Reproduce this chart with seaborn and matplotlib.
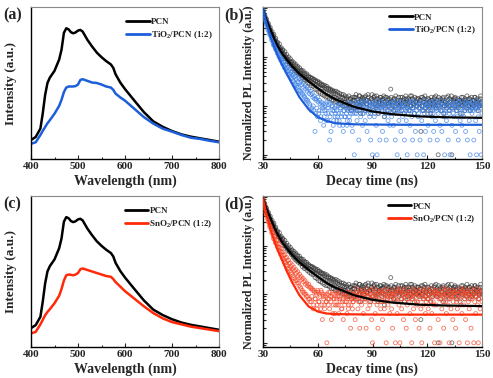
import numpy as np
import pandas as pd
import matplotlib
matplotlib.use("Agg")
import matplotlib.pyplot as plt
import seaborn as sns
from matplotlib.lines import Line2D
from matplotlib.ticker import MultipleLocator, LogLocator, NullFormatter

# ---------------- data ----------------
wavelength = [400, 410, 420, 425, 430, 435, 440, 450, 460, 465, 470, 475, 480, 485, 490, 495,
              500, 505, 510, 520, 530, 540, 550, 560, 570, 575, 580, 590, 600, 620, 640,
              660, 680, 700, 720, 740, 760, 780, 800]
pl_pcn = [0.125, 0.145, 0.20, 0.30, 0.42, 0.50, 0.535, 0.58, 0.655, 0.72, 0.83, 0.86, 0.853, 0.834,
          0.827, 0.833, 0.845, 0.849, 0.838, 0.784, 0.74, 0.70, 0.67, 0.644, 0.622, 0.60,
          0.557, 0.503, 0.46, 0.384, 0.309, 0.248, 0.212, 0.184, 0.162, 0.147, 0.136, 0.125, 0.114]
pl_tio2 = [0.10, 0.11, 0.158, 0.185, 0.21, 0.235, 0.255, 0.298, 0.35, 0.39, 0.44, 0.47, 0.477, 0.477,
           0.477, 0.48, 0.49, 0.52, 0.525, 0.514, 0.503, 0.50, 0.49, 0.477, 0.47, 0.455,
           0.43, 0.405, 0.384, 0.33, 0.276, 0.233, 0.20, 0.18, 0.158, 0.14, 0.132, 0.12, 0.11]
pl_sno2 = [0.09, 0.10, 0.15, 0.18, 0.21, 0.232, 0.25, 0.29, 0.34, 0.385, 0.44, 0.475, 0.48, 0.478,
           0.475, 0.48, 0.49, 0.515, 0.52, 0.51, 0.50, 0.49, 0.48, 0.47, 0.465, 0.45,
           0.43, 0.40, 0.37, 0.32, 0.27, 0.225, 0.19, 0.165, 0.15, 0.135, 0.125, 0.115, 0.105]

# TRPL decay channels: set A at 30.0, 30.5, ... 150.0 ns; set B at 30.25, 30.75, ... 149.75 ns
time_a = np.arange(30.0, 150.01, 0.5)
time_b = np.arange(30.25, 149.8, 0.5)
pcn_a = [
    900, 760, 730, 600, 590, 470, 480, 380, 400, 310,
    330, 250, 290, 210, 240, 175, 200, 150, 185, 135,
    155, 118, 140, 100, 128, 92, 112, 80, 100, 74,
    92, 66, 82, 58, 76, 52, 70, 48, 64, 45,
    60, 42, 54, 37, 52, 34, 47, 33, 45, 30,
    41, 28, 38, 26, 37, 25, 35, 22, 33, 21,
    32, 19, 30, 18, 28, 17, 27, 16, 26, 15,
    25, 15, 23, 14, 22, 13, 21, 13, 20, 12,
    20, 12, 19, 11, 18, 11, 17, 10, 17, 10,
    16, 10, 15, 9, 16, 9, 14, 8, 15, 11,
    15, 9, 17, 8, 13, 10, 16, 7, 12, 14,
    10, 15, 8, 13, 11, 17, 9, 12, 7, 14,
    13, 8, 16, 10, 9, 14, 7, 12, 11, 15,
    9, 13, 10, 6, 15, 11, 8, 14, 10, 12,
    22, 9, 12, 8, 14, 10, 7, 13, 11, 9,
    12, 15, 8, 10, 13, 7, 11, 14, 9, 12,
    8, 13, 10, 16, 9, 11, 7, 12, 14, 10,
    11, 9, 13, 3, 10, 15, 8, 12, 9, 11,
    14, 8, 10, 12, 7, 13, 9, 11, 15, 10,
    9, 12, 1, 10, 13, 8, 11, 14, 7, 10,
    12, 9, 11, 16, 8, 10, 13, 1, 9, 12,
    10, 14, 8, 11, 9, 13, 7, 12, 10, 15,
    11, 8, 13, 9, 12, 10, 14, 8, 11, 9,
    13, 10, 15, 9, 11, 12, 8, 10, 14, 11,
    10]
pcn_b = [
    820, 690, 650, 530, 520, 430, 420, 350, 350, 300,
    280, 270, 230, 225, 195, 190, 170, 160, 150, 145,
    128, 135, 112, 115, 100, 100, 88, 90, 80, 82,
    72, 78, 64, 70, 58, 66, 54, 60, 50, 55,
    47, 52, 43, 48, 40, 45, 37, 42, 35, 39,
    33, 38, 31, 36, 29, 34, 27, 32, 26, 30,
    24, 29, 23, 27, 22, 26, 20, 24, 19, 23,
    18, 22, 17, 21, 16, 20, 15, 19, 15, 18,
    14, 17, 13, 16, 13, 15, 12, 15, 12, 14,
    12, 14, 11, 13, 10, 14, 12, 11, 13, 9,
    13, 15, 11, 14, 12, 16, 10, 13, 15, 11,
    14, 12, 16, 11, 13, 15, 12, 10, 14, 17,
    12, 15, 11, 13, 16, 10, 14, 12, 15, 13,
    11, 14, 16, 12, 10, 15, 13, 11, 14, 12,
    15, 12, 10, 14, 13, 16, 11, 12, 15, 10,
    13, 11, 15, 12, 14, 10, 16, 13, 11, 14,
    12, 16, 10, 14, 11, 13, 15, 12, 10, 14,
    14, 11, 13, 15, 10, 12, 14, 16, 11, 13,
    10, 14, 12, 11, 15, 13, 10, 14, 12, 16,
    13, 10, 15, 12, 14, 11, 13, 15, 10, 12,
    11, 15, 13, 10, 14, 12, 16, 11, 13, 14,
    15, 12, 10, 14, 11, 13, 12, 15, 10, 13,
    12, 14, 11, 16, 13, 10, 14, 12, 15, 11,
    10, 13, 15, 12, 14, 11, 13, 10, 16, 12]
tio2_a = [
    900, 700, 690, 530, 520, 400, 420, 310, 330, 250,
    260, 190, 215, 160, 190, 135, 160, 115, 130, 95,
    105, 78, 92, 66, 82, 58, 72, 50, 64, 44,
    58, 38, 52, 33, 47, 29, 42, 26, 38, 24,
    36, 20, 32, 18, 29, 16, 26, 14, 24, 13,
    22, 11, 20, 8, 18, 10, 16, 3, 14, 9,
    15, 7, 13, 5, 12, 8, 11, 6, 10, 7,
    12, 5, 9, 2, 11, 7, 10, 4, 8, 6,
    10, 5, 12, 7, 4, 9, 6, 11, 3, 8,
    6, 10, 4, 8, 12, 5, 7, 9, 3, 11,
    1, 7, 9, 5, 11, 2, 8, 6, 10, 4,
    7, 12, 5, 9, 3, 8, 10, 6, 2, 11,
    1, 8, 6, 10, 4, 1, 9, 7, 2, 12,
    8, 3, 10, 6, 9, 2, 11, 5, 7, 4,
    9, 6, 12, 4, 8, 2, 10, 1, 7, 5,
    11, 3, 8, 6, 10, 2, 9, 5, 1, 7,
    8, 4, 12, 6, 2, 9, 7, 3, 10, 1,
    6, 9, 2, 11, 5, 8, 1, 7, 3, 10,
    7, 4, 9, 2, 12, 6, 8, 3, 10, 5,
    9, 2, 7, 11, 4, 8, 3, 10, 6, 1,
    8, 5, 10, 2, 7, 1, 9, 4, 11, 6,
    10, 3, 8, 6, 2, 12, 5, 9, 4, 7,
    6, 9, 3, 11, 2, 8, 5, 1, 10, 7,
    8, 2, 11, 5, 1, 9, 6, 3, 10, 1,
    7]
tio2_b = [
    780, 620, 600, 470, 460, 350, 360, 280, 280, 220,
    225, 175, 180, 145, 155, 120, 130, 100, 108, 85,
    90, 72, 78, 60, 68, 52, 60, 45, 52, 40,
    48, 36, 43, 31, 39, 27, 35, 24, 31, 21,
    30, 19, 27, 17, 24, 15, 22, 13, 20, 12,
    18, 10, 17, 9, 15, 8, 14, 7, 13, 6,
    12, 8, 11, 6, 10, 9, 4, 8, 11, 5,
    9, 7, 12, 6, 3, 10, 8, 5, 9, 7,
    8, 6, 10, 5, 9, 7, 11, 4, 8, 6,
    9, 7, 5, 10, 6, 8, 11, 4, 7, 9,
    9, 12, 7, 10, 13, 8, 11, 9, 12, 7,
    10, 8, 13, 9, 11, 7, 12, 10, 8, 11,
    12, 9, 7, 11, 10, 13, 8, 9, 12, 10,
    8, 11, 10, 13, 7, 9, 12, 8, 10, 11,
    11, 7, 9, 12, 10, 8, 13, 9, 11, 8,
    9, 12, 10, 7, 11, 13, 8, 10, 9, 12,
    10, 8, 12, 9, 13, 7, 11, 10, 8, 12,
    7, 11, 9, 12, 8, 10, 13, 9, 11, 10,
    12, 9, 11, 8, 10, 12, 7, 13, 9, 11,
    8, 12, 10, 9, 13, 11, 8, 10, 12, 7,
    11, 9, 13, 10, 8, 12, 9, 11, 7, 10,
    9, 13, 8, 11, 12, 10, 9, 7, 13, 11,
    10, 8, 12, 9, 11, 13, 10, 8, 12, 9,
    12, 10, 9, 13, 8, 11, 10, 12, 9, 11]
sno2_a = [
    900, 680, 660, 480, 470, 360, 370, 270, 290, 215,
    225, 160, 185, 130, 158, 108, 130, 92, 108, 76,
    86, 62, 74, 52, 65, 45, 57, 38, 50, 33,
    44, 28, 40, 24, 36, 21, 32, 19, 29, 17,
    26, 14, 23, 12, 21, 11, 19, 10, 17, 9,
    16, 8, 14, 7, 13, 5, 12, 8, 11, 6,
    12, 7, 10, 5, 11, 3, 9, 6, 10, 7,
    1, 8, 11, 5, 9, 3, 10, 6, 8, 4,
    11, 6, 9, 4, 8, 12, 5, 7, 3, 10,
    7, 9, 4, 11, 6, 8, 2, 10, 5, 7,
    9, 3, 8, 11, 5, 7, 2, 10, 6, 8,
    4, 10, 7, 2, 9, 5, 11, 6, 8, 3,
    1, 9, 7, 4, 10, 6, 2, 8, 11, 5,
    7, 3, 10, 5, 8, 1, 9, 6, 11, 4,
    8, 5, 2, 10, 7, 1, 9, 4, 11, 6,
    1, 8, 5, 10, 3, 7, 9, 2, 6, 11,
    7, 4, 9, 1, 8, 5, 10, 3, 7, 6,
    10, 2, 8, 5, 1, 9, 6, 11, 4, 7,
    8, 5, 10, 2, 7, 4, 9, 6, 1, 11,
    6, 9, 3, 8, 1, 10, 5, 7, 2, 9,
    7, 4, 10, 6, 1, 8, 5, 9, 3, 11,
    9, 2, 7, 5, 10, 1, 8, 6, 4, 11,
    6, 8, 3, 10, 1, 7, 5, 9, 2, 8,
    10, 1, 7, 4, 9, 6, 1, 8, 5, 11,
    7]
sno2_b = [
    760, 600, 570, 430, 410, 310, 320, 240, 245, 185,
    190, 140, 155, 115, 130, 95, 110, 80, 90, 66,
    74, 55, 64, 46, 56, 40, 49, 34, 43, 30,
    37, 26, 33, 22, 30, 19, 27, 17, 24, 15,
    22, 13, 20, 11, 18, 10, 16, 9, 15, 8,
    14, 7, 13, 9, 12, 6, 11, 8, 10, 5,
    11, 7, 9, 12, 6, 10, 8, 5, 9, 7,
    10, 6, 8, 11, 7, 9, 4, 8, 10, 6,
    8, 10, 6, 9, 7, 11, 5, 8, 9, 6,
    10, 7, 8, 5, 9, 11, 6, 8, 7, 10,
    8, 11, 13, 9, 10, 7, 12, 9, 11, 10,
    12, 8, 10, 13, 9, 11, 7, 10, 12, 9,
    9, 13, 11, 8, 12, 10, 9, 11, 7, 12,
    11, 9, 7, 12, 10, 13, 8, 11, 10, 9,
    10, 12, 9, 11, 8, 10, 13, 7, 12, 11,
    13, 8, 11, 10, 12, 9, 10, 13, 8, 11,
    9, 11, 10, 8, 13, 12, 9, 10, 11, 7,
    12, 10, 13, 9, 11, 8, 12, 10, 9, 13,
    8, 12, 10, 11, 9, 13, 7, 11, 12, 10,
    11, 9, 12, 10, 8, 11, 13, 9, 10, 12,
    10, 13, 8, 12, 11, 9, 10, 12, 7, 11,
    9, 11, 12, 8, 10, 13, 11, 9, 12, 10,
    13, 10, 9, 11, 12, 8, 10, 11, 13, 9,
    10, 12, 11, 9, 13, 10, 8, 12, 11, 10]

fit_time = [30, 32, 34, 36, 38, 40, 43, 46, 50, 55, 60, 65, 70, 80, 90, 100, 115, 130, 150]
fit_pcn = [900, 560, 370, 245, 170, 125, 88, 64, 45, 32, 23, 17, 13.5, 9.5, 7.7, 6.8, 6.1, 5.85, 5.7]
fit_tio2 = [900, 470, 265, 165, 108, 75, 45, 28, 15, 8.5, 5.9, 4.9, 4.4, 4.2, 4.15, 4.12, 4.1, 4.1, 4.1]
fit_sno2 = [900, 420, 225, 130, 82, 55, 30, 17.5, 9.5, 5.6, 4.4, 4.0, 3.9, 3.85, 3.82, 3.8, 3.8, 3.8, 3.8]

label_pcn = "PCN"
label_tio2 = "TiO$_{2}$/PCN (1:2)"
label_sno2 = "SnO$_{2}$/PCN (1:2)"

# ---------------- style ----------------
sns.set_style("ticks")
plt.rcParams["font.family"] = ["Liberation Serif", "DejaVu Serif"]
plt.rcParams["font.weight"] = "bold"
plt.rcParams["mathtext.fontset"] = "custom"
plt.rcParams["mathtext.rm"] = "Liberation Serif:bold"
plt.rcParams["mathtext.it"] = "Liberation Serif:bold"
plt.rcParams["mathtext.bf"] = "Liberation Serif:bold"

BLACK = "#000000"
BLUE = "#1d5fd8"
BLUE_PT = "#3f82e6"
RED = "#ff2a0a"
RED_PT = "#f5482a"
GREY_PT = "#333333"

fig = plt.figure(figsize=(4.93, 3.78), dpi=100)
W, H = 493, 378


def make_ax(l, r, t, b):
    return fig.add_axes([l / W, 1 - b / H, (r - l) / W, (b - t) / H])


ax_a = make_ax(31, 219, 7, 159)
ax_b = make_ax(263, 482, 7, 159)
ax_c = make_ax(31, 219, 196, 347)
ax_d = make_ax(263, 482, 196, 347)


def style_axes(ax):
    for s in ["left", "bottom"]:
        ax.spines[s].set_color("black")
        ax.spines[s].set_linewidth(1.0)
    for s in ["top", "right"]:
        ax.spines[s].set_color("#8a8a8a")
        ax.spines[s].set_linewidth(0.8)
    ax.tick_params(axis="both", which="both", direction="in", labelsize=8,
                   width=0.8, pad=2)
    ax.tick_params(axis="both", which="major", length=3)
    ax.tick_params(axis="both", which="minor", length=1.8)


def legend(ax, second_label, second_color, y_anchor):
    handles = [Line2D([], [], color=BLACK, lw=2.0),
               Line2D([], [], color=second_color, lw=2.0)]
    ax.legend(handles, [label_pcn, second_label], loc="upper right",
              bbox_to_anchor=(1.0, y_anchor), frameon=False,
              prop={"family": "Liberation Serif", "weight": "bold", "size": 6.5},
              handlelength=2.6, handletextpad=0.15, labelspacing=0.35,
              borderaxespad=0.3)


def spectrum_panel(ax, second, color, label):
    df = pd.DataFrame({"wl": wavelength, "PCN": pl_pcn, "other": second})
    sns.lineplot(data=df, x="wl", y="PCN", ax=ax, color=BLACK, lw=1.8)
    sns.lineplot(data=df, x="wl", y="other", ax=ax, color=color, lw=1.8)
    ax.set_xlim(400, 800)
    ax.set_ylim(0, 1)
    ax.set_yticks([])
    ax.xaxis.set_major_locator(MultipleLocator(100))
    ax.xaxis.set_minor_locator(MultipleLocator(50))
    style_axes(ax)
    ax.set_xlabel("Wavelength (nm)", fontsize=10, fontweight="bold")
    ax.set_ylabel("Intensity (a.u.)", fontsize=9.5, fontweight="bold")
    ax.xaxis.set_label_coords(0.5, -0.105)
    ax.yaxis.set_label_coords(-0.072, 0.5)
    legend(ax, label, color, 0.97)


def decay_panel(ax, other_a, other_b, fit, pt_color, line_color, label):
    df = pd.DataFrame({"t": np.concatenate([time_a, time_b]),
                       "pcn": pcn_a + pcn_b,
                       "other": other_a + other_b})
    dfit = pd.DataFrame({"t": fit_time, "pcn": fit_pcn, "other": fit})
    sns.scatterplot(data=df, x="t", y="pcn", ax=ax, marker="o", s=8,
                    facecolor="none", edgecolor=GREY_PT, linewidth=0.6, alpha=0.7,
                    zorder=2)
    sns.scatterplot(data=df, x="t", y="other", ax=ax, marker="o", s=8,
                    facecolor="none", edgecolor=pt_color, linewidth=0.6, alpha=0.75,
                    zorder=3)
    sns.lineplot(data=dfit, x="t", y="pcn", ax=ax, color=BLACK, lw=1.6, zorder=4)
    sns.lineplot(data=dfit, x="t", y="other", ax=ax, color=line_color, lw=1.6, zorder=5)
    ax.set_yscale("log")
    ax.set_xlim(30, 150)
    ax.set_ylim(0.82, 1050)
    ax.xaxis.set_major_locator(MultipleLocator(30))
    ax.xaxis.set_minor_locator(MultipleLocator(15))
    ax.yaxis.set_major_locator(LogLocator(base=10, numticks=10))
    ax.yaxis.set_minor_locator(LogLocator(base=10, subs=[0.2, 0.3, 0.4, 0.5, 0.6, 0.7, 0.8, 0.9],
                                          numticks=20))
    ax.yaxis.set_major_formatter(NullFormatter())
    ax.yaxis.set_minor_formatter(NullFormatter())
    style_axes(ax)
    ax.set_xlabel("Decay time (ns)", fontsize=10, fontweight="bold")
    ax.set_ylabel("Normalized PL Intensity (a.u.)", fontsize=8.6, fontweight="bold")
    ax.xaxis.set_label_coords(0.5, -0.105)
    ax.yaxis.set_label_coords(-0.035, 0.5)
    legend(ax, label, line_color, 1.0)


spectrum_panel(ax_a, pl_tio2, BLUE, label_tio2)
spectrum_panel(ax_c, pl_sno2, RED, label_sno2)
decay_panel(ax_b, tio2_a, tio2_b, fit_tio2, BLUE_PT, BLUE, label_tio2)
decay_panel(ax_d, sno2_a, sno2_b, fit_sno2, RED_PT, RED, label_sno2)

for txt, x, y in [("(a)", 3, 15), ("(b)", 224, 15), ("(c)", 3, 204), ("(d)", 224, 204)]:
    fig.text(x / W, 1 - y / H, txt, fontsize=11.5, fontweight="bold",
             ha="left", va="center")

fig.savefig("out.png", dpi=100)
